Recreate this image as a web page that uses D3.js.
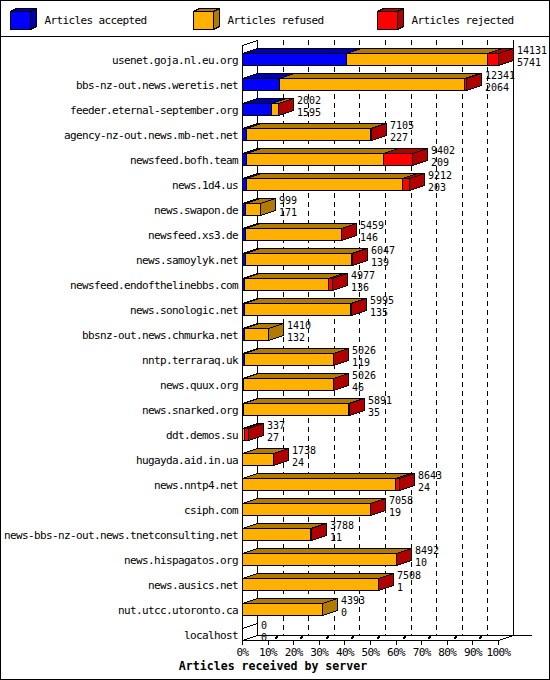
<!DOCTYPE html>
<html><head><meta charset="utf-8">
<script src="https://cdn.jsdelivr.net/npm/d3@7"></script>
<style>
html,body{margin:0;padding:0;background:#fff;}
svg text{font-family:"DejaVu Sans Mono",monospace;font-size:11px;letter-spacing:-0.62px;fill:#000;}
svg text.val{font-size:10px;letter-spacing:0px;}
</style></head>
<body>
<svg id="chart" width="550" height="680"></svg>
<script>
const categories = ["usenet.goja.nl.eu.org","bbs-nz-out.news.weretis.net","feeder.eternal-september.org","agency-nz-out.news.mb-net.net","newsfeed.bofh.team","news.1d4.us","news.swapon.de","newsfeed.xs3.de","news.samoylyk.net","newsfeed.endofthelinebbs.com","news.sonologic.net","bbsnz-out.news.chmurka.net","nntp.terraraq.uk","news.quux.org","news.snarked.org","ddt.demos.su","hugayda.aid.in.ua","news.nntp4.net","csiph.com","news-bbs-nz-out.news.tnetconsulting.net","news.hispagatos.org","news.ausics.net","nut.utcc.utoronto.ca","localhost"];
const totals   = [14131,12341,2002,7105,9402,9212,999,5459,6047,4977,5995,1410,5026,5026,5891,337,1738,8643,7058,3788,8492,7508,4393,0];
const accepted = [5741,2064,1595,227,209,203,171,146,139,136,135,132,119,46,35,27,24,24,19,11,10,1,0,0];
const refused  = [7790,10177,372,6838,7573,8644,828,5293,5888,4621,5840,1278,4892,4965,5841,100,1704,8399,7029,3767,8472,7492,4393,0];
const rejected = [600,100,35,40,1620,365,0,20,20,220,20,0,15,15,15,210,10,220,10,10,10,15,0,0];
const seriesNames = ["Articles accepted","Articles refused","Articles rejected"];
const tickValues = [0,10,20,30,40,50,60,70,80,90,100];
const axisTitle = "Articles received by server";

const frontColors = ["#0000ff","#ffb000","#ff0000"];
const sideColors  = ["#0000b0","#b07b00","#b00000"];

const svg = d3.select("#chart");
const DX = 15, DY = -5;

svg.append("rect").attr("x",0).attr("y",0).attr("width",550).attr("height",680).attr("fill","#fff");

const g = svg.append("g").attr("shape-rendering","crispEdges");

// scales
const x = d3.scaleLinear().domain([0, d3.max(totals)]).range([242, 498]);
const pct = d3.scaleLinear().domain([0, 100]).range([242, 498]);
const y = d3.scaleBand().domain(categories).range([40, 640]);
const barOff = 13, barH = 12;

// legend
const lx = d3.scaleBand().domain(seriesNames).range([10, 560]);
const leg = g.selectAll("g.leg").data(seriesNames).join("g").attr("class","leg")
  .attr("transform", d => `translate(${Math.round(lx(d))},0)`);
leg.append("polygon").attr("points","0.5,11.5 6.5,8.5 26.5,8.5 20.5,11.5")
  .attr("fill",(d,i)=>sideColors[i]).attr("stroke","#000");
leg.append("polygon").attr("points","20.5,11.5 26.5,8.5 26.5,26.5 20.5,29.5")
  .attr("fill",(d,i)=>sideColors[i]).attr("stroke","#000");
leg.append("rect").attr("x",0.5).attr("y",11.5).attr("width",20).attr("height",18)
  .attr("fill",(d,i)=>frontColors[i]).attr("stroke","#000");
leg.append("text").attr("x",34.5).attr("y",24).text(d=>d);

// separator + border
g.append("line").attr("x1",0).attr("x2",550).attr("y1",36.5).attr("y2",36.5).attr("stroke","#000");
g.append("rect").attr("x",0.5).attr("y",0.5).attr("width",549).attr("height",679).attr("fill","none").attr("stroke","#000");

// back gridlines
const plotTop = 40, plotBottom = 640;
g.selectAll("line.grid").data(tickValues.filter(v => v>0 && v<100)).join("line").attr("class","grid")
  .attr("x1", d => Math.round(pct(d))+DX+0.5).attr("x2", d => Math.round(pct(d))+DX+0.5)
  .attr("y1", plotTop).attr("y2", plotBottom+DY)
  .attr("stroke","#000").attr("stroke-dasharray","5,4");
// back frame
[0,100].forEach(v => {
  g.append("line").attr("x1", Math.round(pct(v))+DX+0.5).attr("x2", Math.round(pct(v))+DX+0.5)
    .attr("y1", plotTop).attr("y2", plotBottom+DY+0.5).attr("stroke","#000");
});
g.append("line").attr("x1", pct(0)+DX).attr("x2", pct(100)+DX+19).attr("y1", plotBottom+DY+0.5).attr("y2", plotBottom+DY+0.5).attr("stroke","#000");
// front axes
g.append("line").attr("x1",pct(0)+0.5).attr("x2",pct(0)+0.5).attr("y1",plotTop-DY).attr("y2",plotBottom+0.5).attr("stroke","#000");
g.append("line").attr("x1",pct(0)).attr("x2",pct(100)+0.5).attr("y1",plotBottom+0.5).attr("y2",plotBottom+0.5).attr("stroke","#000");
g.append("line").attr("x1",pct(0)+0.5).attr("y1",plotBottom+0.5).attr("x2",pct(0)+DX+0.5).attr("y2",plotBottom+DY+0.5).attr("stroke","#000");
g.append("line").attr("x1",pct(100)+0.5).attr("y1",plotBottom+0.5).attr("x2",pct(100)+DX+0.5).attr("y2",plotBottom+DY+0.5).attr("stroke","#000");
g.append("line").attr("x1",pct(0)+0.5).attr("y1",plotTop-DY+0.5).attr("x2",pct(0)+DX+0.5).attr("y2",plotTop+0.5).attr("stroke","#000");

// bars
const segs = [];
categories.forEach((c,i) => {
  const vals = [accepted[i], refused[i], rejected[i]];
  let start = 0;
  if (totals[i] === 0) {
    segs.push({c, x0:x(0), x1:x(0), k:-1});
  }
  vals.forEach((v,k) => {
    if (v > 0) segs.push({c, x0:x(start), x1:x(start+v), k});
    start += v;
  });
});
const bars = g.selectAll("g.seg").data(segs).join("g").attr("class","seg");
function ft(d){ return y(d.c) + barOff + 0.5; }
function px(v){ return Math.round(v) + 0.5; }
bars.append("polygon")
  .attr("points", d => { const t=ft(d), a=px(d.x0), b=px(d.x1);
     return [[a,t],[a+DX,t+DY],[b+DX,t+DY],[b,t]].join(" "); })
  .attr("fill", d => d.k<0 ? "none" : sideColors[d.k]).attr("stroke","#000");
bars.append("polygon")
  .attr("points", d => { const t=ft(d), b=px(d.x1);
     return [[b,t],[b+DX,t+DY],[b+DX,t+barH+DY],[b,t+barH]].join(" "); })
  .attr("fill", d => d.k<0 ? "none" : sideColors[d.k]).attr("stroke","#000");
bars.append("rect")
  .attr("x", d => px(d.x0)).attr("y", d => ft(d))
  .attr("width", d => Math.max(0, px(d.x1)-px(d.x0))).attr("height", barH)
  .attr("fill", d => d.k<0 ? "none" : frontColors[d.k]).attr("stroke","#000");

// category labels
svg.selectAll("text.cat").data(categories).join("text").attr("class","cat")
  .attr("x", 238).attr("y", d => y(d) + barOff + 11)
  .attr("text-anchor","end").text(d => d);

// value labels
const vl = svg.selectAll("g.vl").data(categories).join("g").attr("class","vl")
  .attr("transform",(d,i)=>`translate(${Math.round(x(totals[i]))+DX+4},${y(d)+barOff})`);
vl.append("text").attr("class","val").attr("x",0).attr("y",1).text((d,i)=>totals[i]);
vl.append("text").attr("class","val").attr("x",0).attr("y",13).text((d,i)=>accepted[i]);

// bottom axis
const ax = svg.append("g").attr("transform",`translate(0,${plotBottom})`)
  .call(d3.axisBottom(pct).tickValues(tickValues).tickFormat(d => d + "%").tickSize(5).tickPadding(4));
ax.select(".domain").remove();
ax.selectAll(".tick line").attr("stroke","#000").attr("shape-rendering","crispEdges");
ax.selectAll(".tick text").attr("font-family",null).attr("font-size",null).attr("y",null).attr("dy",null)
  .attr("transform","translate(0,16)");
// 3d tick nubs
g.selectAll("line.nub").data(tickValues.filter(v=>v>0 && v<100)).join("line").attr("class","nub")
  .attr("x1", d => Math.round(pct(d))+7).attr("y1", plotBottom-1.5)
  .attr("x2", d => Math.round(pct(d))+10).attr("y2", plotBottom-4)
  .attr("stroke","#000").attr("stroke-width",2);

svg.append("text").attr("x",273).attr("y",670).attr("text-anchor","middle")
  .style("font-weight","bold").style("font-size","11.6px").style("letter-spacing","0px")
  .text(axisTitle);
</script>
</body></html>
